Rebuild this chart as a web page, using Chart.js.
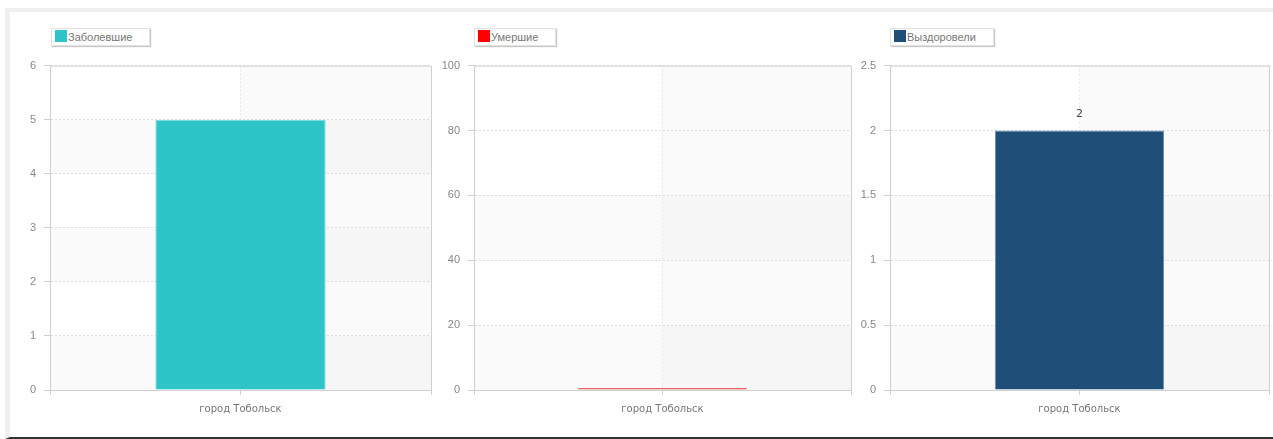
<!DOCTYPE html>
<html lang="ru">
<head>
  <meta charset="UTF-8" />
  <title>Тобольск</title>
  <script src="https://cdn.jsdelivr.net/npm/chart.js"></script>
  <style>
    body { margin: 0; background: #fff; width: 1273px; height: 439px; overflow: hidden; position: relative; }
    #panel { position: absolute; left: 5px; top: 8px; width: 1268px; height: 431px; box-sizing: border-box;
      border-left: 5px solid #efefef; border-top: 4px solid #efefef; border-bottom: 2px solid #333; background: #fff; }
    canvas { position: absolute; top: 51px; }
    .legend { position: absolute; top: 28px; height: 18px; box-sizing: border-box; border: 1px solid #e2e2e2;
      box-shadow: 1px 1px 1px #c8c8c8; background: #fff; font: 11px "Liberation Sans", Arial, sans-serif;
      color: #777; line-height: 16px; white-space: nowrap; }
    .legend span { display: inline-block; width: 12px; height: 12px; margin: 1px 1px 0 3px; vertical-align: top; }
  </style>
</head>

<body>
  <div id="panel"></div>
  <canvas id="c1" width="425" height="379" style="left:10px"></canvas>
  <canvas id="c2" width="420" height="379" style="left:435px"></canvas>
  <canvas id="c3" width="418" height="379" style="left:855px"></canvas>
  <div class="legend" style="left:51px; width:99px"><span style="background:#2ec5c8"></span>Заболевшие</div>
  <div class="legend" style="left:474px; width:82px"><span style="background:#ff0000"></span>Умершие</div>
  <div class="legend" style="left:890px; width:104px"><span style="background:#1f4e79"></span>Выздоровели</div>

  <script>
    // data
    const categories = ["город Тобольск"];
    const sickValues = [5];
    const deadValues = [0];
    const recoveredValues = [2];
    const sickTicks = [0, 1, 2, 3, 4, 5, 6];
    const deadTicks = [0, 20, 40, 60, 80, 100];
    const recoveredTicks = [0, 0.5, 1, 1.5, 2, 2.5];

    /* alternating bands + frame around the plot */
    const bandsPlugin = {
      id: "bands",
      beforeDraw(chart) {
        const { ctx, chartArea: a, scales } = chart;
        const ticks = scales.y.ticks;
        const midX = scales.x.getPixelForValue(0);
        ctx.save();
        ctx.fillStyle = "rgba(0,0,0,0.02)";
        for (let i = 0; i < ticks.length - 2; i += 2) {
          const y0 = scales.y.getPixelForValue(ticks[i].value);
          const y1 = scales.y.getPixelForValue(ticks[i + 1].value);
          ctx.fillRect(a.left, y1, a.right - a.left, y0 - y1);
        }
        ctx.fillStyle = "rgba(0,0,0,0.018)";
        ctx.fillRect(midX, a.top, a.right - midX, a.bottom - a.top);
        ctx.restore();
      },
      afterDraw(chart) {
        const { ctx, chartArea: a } = chart;
        ctx.save();
        ctx.strokeStyle = "#d0d0d0";
        ctx.lineWidth = 1;
        ctx.beginPath();
        ctx.moveTo(a.left, a.top + 0.5);
        ctx.lineTo(a.right + 0.5, a.top + 0.5);
        ctx.lineTo(a.right + 0.5, a.bottom + 5);
        ctx.moveTo(a.left + 0.5, a.bottom);
        ctx.lineTo(a.left + 0.5, a.bottom + 5);
        ctx.stroke();
        ctx.restore();
      },
    };

    /* value label over the bar */
    const valueLabel = {
      id: "valueLabel",
      afterDatasetsDraw(chart) {
        const { ctx } = chart;
        const meta = chart.getDatasetMeta(0);
        ctx.save();
        ctx.fillStyle = "#444";
        ctx.font = '11px "DejaVu Sans", sans-serif';
        ctx.textAlign = "center";
        ctx.textBaseline = "middle";
        meta.data.forEach((bar, i) => {
          ctx.fillText(String(chart.data.datasets[0].data[i]), bar.x, bar.y - 16);
        });
        ctx.restore();
      },
    };

    function makeChart(id, label, values, ticks, fill, border, yWidth, extra) {
      const step = ticks[1] - ticks[0];
      return new Chart(document.getElementById(id), {
        type: "bar",
        data: {
          labels: categories,
          datasets: [{
            label: label,
            data: values,
            backgroundColor: fill,
            borderColor: border,
            borderWidth: 1,
            minBarLength: 2,
            barPercentage: 0.447,
            categoryPercentage: 1,
          }],
        },
        plugins: [bandsPlugin].concat(extra || []),
        options: {
          responsive: false,
          animation: false,
          devicePixelRatio: 1,
          layout: { padding: { top: 6, right: 4, left: 0, bottom: 0 } },
          plugins: { legend: { display: false }, tooltip: { enabled: false } },
          scales: {
            x: {
              afterFit: (s) => { s.height = 40; },
              grid: {
                offset: false,
                color: "#e6e6e6",
                tickLength: 5,
                tickColor: "#d0d0d0",
                tickBorderDash: [],
              },
              border: { color: "#d0d0d0", dash: [2, 2] },
              ticks: { color: "#777", padding: 8, font: { family: "DejaVu Sans", size: 10 } },
            },
            y: {
              min: ticks[0],
              max: ticks[ticks.length - 1],
              afterFit: (s) => { s.width = yWidth; },
              afterBuildTicks: (s) => { s.ticks = ticks.map((v) => ({ value: v })); },
              ticks: {
                stepSize: step,
                color: "#888",
                padding: 8,
                font: { family: "Liberation Sans", size: 11 },
                callback: (v) => String(v),
              },
              grid: {
                color: "#dcdcdc",
                tickLength: 6,
                tickColor: "#cfcfcf",
                tickBorderDash: [],
              },
              border: { color: "#d0d0d0", dash: [2, 2] },
            },
          },
        },
      });
    }

    makeChart("c1", "Заболевшие", sickValues, sickTicks, "#2ec5c8", "#7bdadc", 40);
    makeChart("c2", "Умершие", deadValues, deadTicks, "#e84444", "#e84444", 39);
    makeChart("c3", "Выздоровели", recoveredValues, recoveredTicks, "#1f4e79", "#6a8cab", 35, [valueLabel]);
  </script>
</body>

</html>
